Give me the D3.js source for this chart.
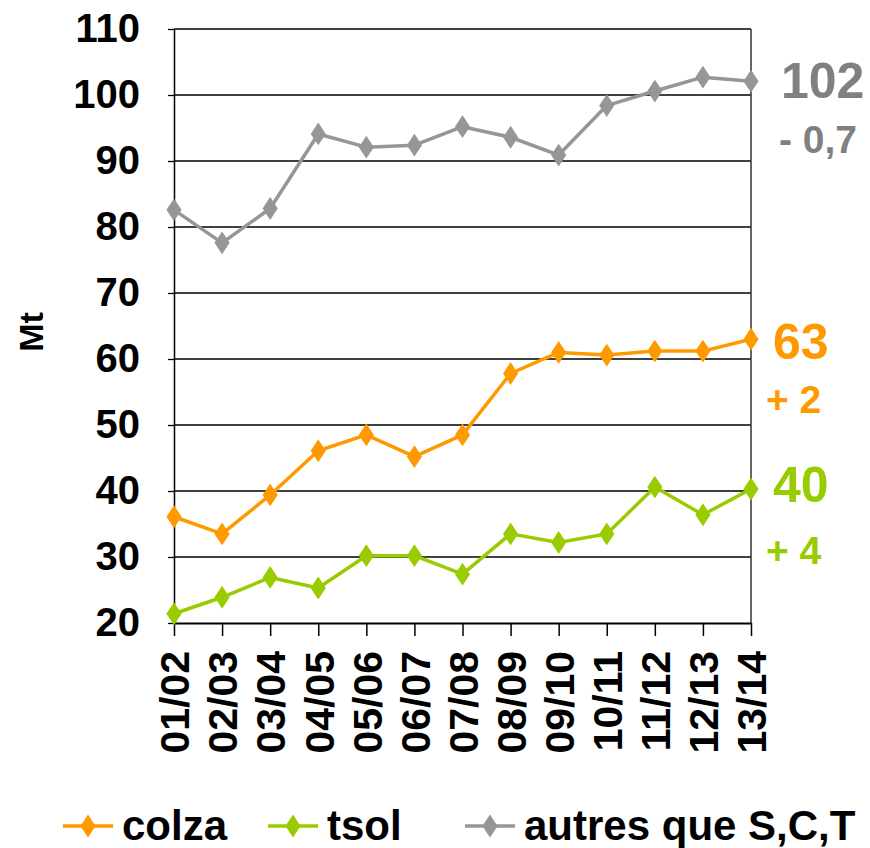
<!DOCTYPE html>
<meta charset="utf-8">
<style>
body { margin: 0; background: #fff; }
text { font-family: "Liberation Sans", Arial, sans-serif; font-weight: bold; }
</style>
<body>
<script src="https://cdn.jsdelivr.net/npm/d3@7/dist/d3.min.js"></script>
<script>

var w = 870;
var h = 848;

// campaigns
var years = ["01/02", "02/03", "03/04", "04/05", "05/06", "06/07", "07/08",
             "08/09", "09/10", "10/11", "11/12", "12/13", "13/14"];

// production, Mt
var colza = [36.1, 33.5, 39.4, 46.1, 48.5, 45.2, 48.5, 57.8, 61.0, 60.6, 61.2, 61.2, 63.0];
var tsol = [21.4, 23.9, 26.9, 25.3, 30.2, 30.2, 27.4, 33.5, 32.2, 33.5, 40.6, 36.4, 40.3];
var autres = [82.6, 77.6, 82.8, 94.1, 92.1, 92.4, 95.2, 93.6, 90.9, 98.4, 100.6, 102.7, 102.1];

var yTicks = [20, 30, 40, 50, 60, 70, 80, 90, 100, 110];

var seriesNames = ["colza", "tsol", "autres que S,C,T"];
var seriesColors = ["#ff9900", "#99cc00", "#969696"];
var textColors = ["#ff9900", "#99cc00", "#808080"];
var lastLabels = ["63", "40", "102"];
var changeLabels = ["+ 2", "+ 4", "- 0,7"];

var series = [
  {name: seriesNames[0], values: colza, color: seriesColors[0]},
  {name: seriesNames[1], values: tsol, color: seriesColors[1]},
  {name: seriesNames[2], values: autres, color: seriesColors[2]}
];

var pLeft = 174, pRight = 751, pTop = 29, pBottom = 623;

var svg = d3.select("body")
	.append("svg")
	.attr("width", w)
	.attr("height", h);

var x = d3.scalePoint()
	.domain(years)
	.range([pLeft, pRight]);

var y = d3.scaleLinear()
	.domain([20, 110])
	.range([pBottom, pTop]);

// horizontal gridlines
svg.selectAll("line.grid")
	.data(yTicks.slice(1))
	.enter()
	.append("line")
	.attr("class", "grid")
	.attr("x1", pLeft)
	.attr("x2", pRight)
	.attr("y1", function(d) { return y(d); })
	.attr("y2", function(d) { return y(d); })
	.attr("stroke", "#000")
	.attr("stroke-width", 1.3);

// right border
svg.append("line")
	.attr("x1", pRight).attr("x2", pRight)
	.attr("y1", pTop).attr("y2", pBottom)
	.attr("stroke", "#333")
	.attr("stroke-width", 1.5);

// y axis
var yAxis = d3.axisLeft(y)
	.tickValues(yTicks)
	.tickSize(6)
	.tickSizeOuter(0)
	.tickPadding(28);

var gy = svg.append("g")
	.attr("transform", "translate(" + pLeft + ",0)")
	.call(yAxis);
gy.select(".domain").attr("stroke", "#000").attr("stroke-width", 1.5);
gy.selectAll(".tick line").attr("stroke", "#000").attr("stroke-width", 1.3);
gy.selectAll(".tick text")
	.attr("font-size", 40)
	.attr("font-family", "Liberation Sans, Arial, sans-serif")
	.attr("font-weight", "bold")
	.attr("fill", "#000");

// x axis
var xAxis = d3.axisBottom(x)
	.tickSize(13)
	.tickPadding(0)
	.tickSizeOuter(0);

var gx = svg.append("g")
	.attr("transform", "translate(0," + pBottom + ")")
	.call(xAxis);
gx.select(".domain").attr("stroke", "#000").attr("stroke-width", 2);
gx.selectAll(".tick line").attr("stroke", "#000").attr("stroke-width", 1.5);
gx.selectAll(".tick text")
	.attr("font-size", 41)
	.attr("font-family", "Liberation Sans, Arial, sans-serif")
	.attr("font-weight", "bold")
	.attr("fill", "#000")
	.attr("text-anchor", "end")
	.attr("transform", "rotate(-90)")
	.attr("x", -28)
	.attr("y", 0)
	.attr("dy", "0.36em");

// y title
svg.append("text")
	.attr("transform", "translate(31,332) rotate(-90)")
	.attr("text-anchor", "middle")
	.attr("dy", "0.36em")
	.attr("font-size", 34)
	.attr("fill", "#000")
	.text("Mt");

// lines
var line = d3.line()
	.x(function(d, i) { return x(years[i]); })
	.y(function(d) { return y(d); });

var diamond = d3.symbol().type(d3.symbolDiamond).size(150);

var order = [2, 0, 1];
order.forEach(function(k) {
	var s = series[k];
	svg.append("path")
		.datum(s.values)
		.attr("d", line)
		.attr("fill", "none")
		.attr("stroke", s.color)
		.attr("stroke-width", 3.5)
		.attr("stroke-linejoin", "round");
	svg.selectAll("path.m" + k)
		.data(s.values)
		.enter()
		.append("path")
		.attr("class", "m" + k)
		.attr("d", diamond)
		.attr("transform", function(d, i) {
			return "translate(" + x(years[i]) + "," + y(d) + ") scale(1.15,1)";
		})
		.attr("fill", s.color);
});

// end annotations
var annPos = [
	{x1: 773, y1: 359, x2: 766, y2: 413},
	{x1: 773, y1: 502, x2: 766, y2: 564},
	{x1: 781, y1: 98, x2: 779, y2: 153}
];
series.forEach(function(s, k) {
	svg.append("text")
		.attr("x", annPos[k].x1)
		.attr("y", annPos[k].y1)
		.attr("font-size", 50)
		.attr("fill", textColors[k])
		.text(lastLabels[k]);
	svg.append("text")
		.attr("x", annPos[k].x2)
		.attr("y", annPos[k].y2)
		.attr("font-size", 39)
		.attr("fill", textColors[k])
		.text(changeLabels[k]);
});

// legend
var legX = [63, 268, 465];
var legY = 826;
var leg = svg.selectAll("g.leg")
	.data(series)
	.enter()
	.append("g")
	.attr("class", "leg")
	.attr("transform", function(d, i) { return "translate(" + legX[i] + "," + legY + ")"; });

leg.append("line")
	.attr("x1", 0).attr("x2", 50)
	.attr("y1", 0).attr("y2", 0)
	.attr("stroke", function(d) { return d.color; })
	.attr("stroke-width", 3.5);
leg.append("path")
	.attr("d", diamond)
	.attr("transform", "translate(25,0) scale(1.15,1)")
	.attr("fill", function(d) { return d.color; });
leg.append("text")
	.attr("x", 59)
	.attr("y", 14)
	.attr("font-size", 42)
	.attr("fill", "#000")
	.text(function(d) { return d.name; });

</script>
</body>
